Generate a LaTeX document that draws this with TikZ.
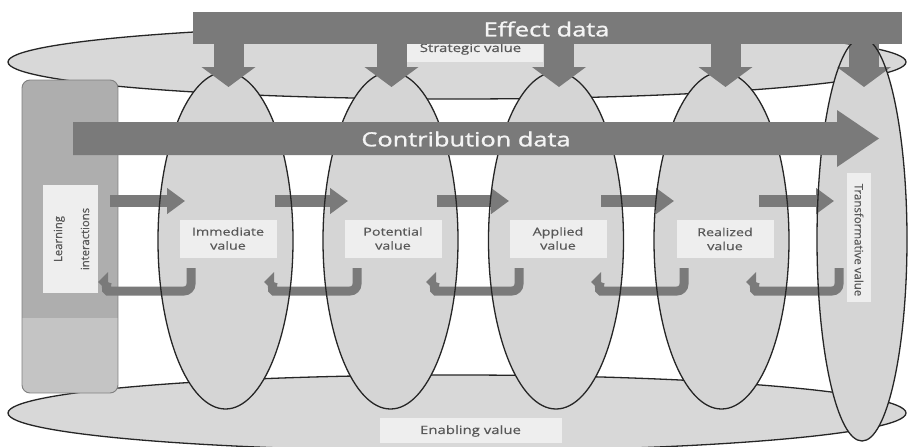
\documentclass[tikz,border=0pt]{standalone}
\usepackage{fontspec}
\setmainfont{Open Sans}
\newfontfamily\widefont[FakeStretch=1.3,FakeBold=0.4]{Open Sans}
\newfontfamily\headfont[FakeStretch=1.3,FakeBold=1.3]{Open Sans}
\newfontfamily\sidefont[FakeBold=0.4]{Open Sans}
\usetikzlibrary{arrows.meta,calc}

\definecolor{ringfill}{HTML}{D8D8D8}
\definecolor{stagefill}{HTML}{D5D5D5}
\definecolor{tagfill}{HTML}{EEEEEE}
\definecolor{flow}{HTML}{7A7A7A}
\definecolor{panel}{HTML}{AEAEAE}
\definecolor{panellow}{HTML}{C4C4C4}
\definecolor{tagtext}{HTML}{585858}
\definecolor{headtext}{HTML}{F4F4F4}

\begin{document}
\begin{tikzpicture}[x=1pt,y=-1pt,
  outline/.style={draw=black!85, line width=1.3pt},
  stagetag/.style={fill=tagfill, text=tagtext, align=center, inner sep=0pt,
    minimum width=97pt, minimum height=38pt,
    font=\widefont\fontsize{11}{14}\selectfont},
  plaintag/.style={fill=tagfill, inner sep=0pt},
  tagword/.style={text=tagtext, inner sep=0pt, font=\widefont\fontsize{11.5}{14}\selectfont},
  headword/.style={text=headtext, inner sep=0pt, font=\headfont\fontsize{19.5}{22}\selectfont},
  fwd/.style={flow, line width=12pt, -{Triangle[width=25pt,length=18pt]}},
  back/.style={draw=flow, line width=9pt, -{Triangle[width=19pt,length=10pt]}},
  down/.style={flow, line width=30pt, -{Triangle[width=53pt,length=20pt]}},
]
\useasboundingbox (0,0) rectangle (908,447);
\fill[white] (0,0) rectangle (908,447);

% centres of the value stages
\coordinate (s1) at (225.5,240.5);
\coordinate (s2) at (390.5,240.5);
\coordinate (s3) at (556,240.5);
\coordinate (s4) at (721.5,240.5);
\coordinate (s5) at (862,239.5);

% strategic and enabling rings
\filldraw[fill=ringfill, outline] (457,62) ellipse [x radius=449pt, y radius=37pt];
\filldraw[fill=ringfill, outline] (457,413) ellipse [x radius=449pt, y radius=38pt];

% learning interactions panel
\begin{scope}
  \clip[rounded corners=8pt] (22,80) rectangle (118,393);
  \fill[panel] (22,80) rectangle (118,318);
  \fill[panellow] (22,318) rectangle (118,393);
\end{scope}
\draw[draw=black!50, line width=0.9pt, rounded corners=8pt] (22,80) rectangle (118,393);

% stage fills
\foreach \c in {s1,s2,s3,s4}
  \fill[stagefill] (\c) ellipse [x radius=67.5pt, y radius=168.5pt];
\fill[stagefill] (s5) ellipse [x radius=45pt, y radius=201.5pt];

% forward arrows between stages
\foreach \a/\b [count=\i] in {110/185, 275/348, 437/509, 601/674, 759/834} {
  \coordinate (f\i a) at (\a,201);
  \coordinate (f\i b) at (\b,201);
  \draw[fwd] (f\i a) -- (f\i b);
}

% feedback arrows
\foreach \x [count=\i] in {191,357,519,684,839} {
  \coordinate (r\i a) at (\x,268);
  \coordinate (r\i b) at ({\x-93},282);
  \draw[back, rounded corners=7pt] (r\i a) |- ({\x-76},291)
     [sharp corners] .. controls ({\x-86},291) and ({\x-84},282) .. (r\i b);
}

% stage outlines
\foreach \c in {s1,s2,s3,s4}
  \draw[outline] (\c) ellipse [x radius=67.5pt, y radius=168.5pt];

% stage labels
\node[stagetag] (imm) at (228,238.5) {Immediate\\value};
\node[stagetag] (pot) at (393,238.5) {Potential\\value};
\node[stagetag] (app) at (558,238.5) {Applied\\value};
\node[stagetag] (rea) at (725,239) {Realized\\value};

\node[fill=tagfill, minimum width=55pt, minimum height=108pt, inner sep=0pt] (learnbox) at (70.5,239) {};
\node[rotate=90, text=tagtext, align=center, inner sep=0pt,
      font=\sidefont\fontsize{11.3}{14}\selectfont] (learn) at (71.5,239) {Learning\\[13pt]interactions};

\node[fill=tagfill, minimum width=24pt, minimum height=129pt, inner sep=0pt] (transbox) at (859,237.5) {};
\node[rotate=-90, text=tagtext, inner sep=0pt,
      font=\sidefont\fontsize{11.5}{14}\selectfont] (trans) at (859,240) {Transformative value};

\node[plaintag, minimum width=136pt, minimum height=19pt] (stratbox) at (475,52.5) {};
\node[tagword] (strat) at (470.5,49) {Strategic value};
\node[plaintag, minimum width=182pt, minimum height=25pt] (enabbox) at (471,430.5) {};
\node[tagword] (enab) at (470.5,431) {Enabling value};

% effect arrow into the transformative stage, then its outline
\coordinate (d5a) at (864,40);
\coordinate (d5b) at (864,87);
\draw[down] (d5a) -- (d5b);
\draw[outline] (s5) ellipse [x radius=45pt, y radius=201.5pt];

% contribution data arrow
\fill[flow] (73,122) -- (837,122) -- (837,110) -- (879,138.5) -- (837,167)
  -- (837,155) -- (73,155) -- cycle;
\node[headword] (contrib) at (466,139) {Contribution data};

% effect data bar with its arrows
\foreach \x [count=\i] in {228.5,391.5,559,725.5} {
  \coordinate (d\i a) at (\x,40);
  \coordinate (d\i b) at (\x,87);
  \draw[down] (d\i a) -- (d\i b);
}
\fill[flow] (193,12) rectangle (902,44);
\node[headword] (effect) at (546.5,29) {Effect data};
\end{tikzpicture}
\end{document}
